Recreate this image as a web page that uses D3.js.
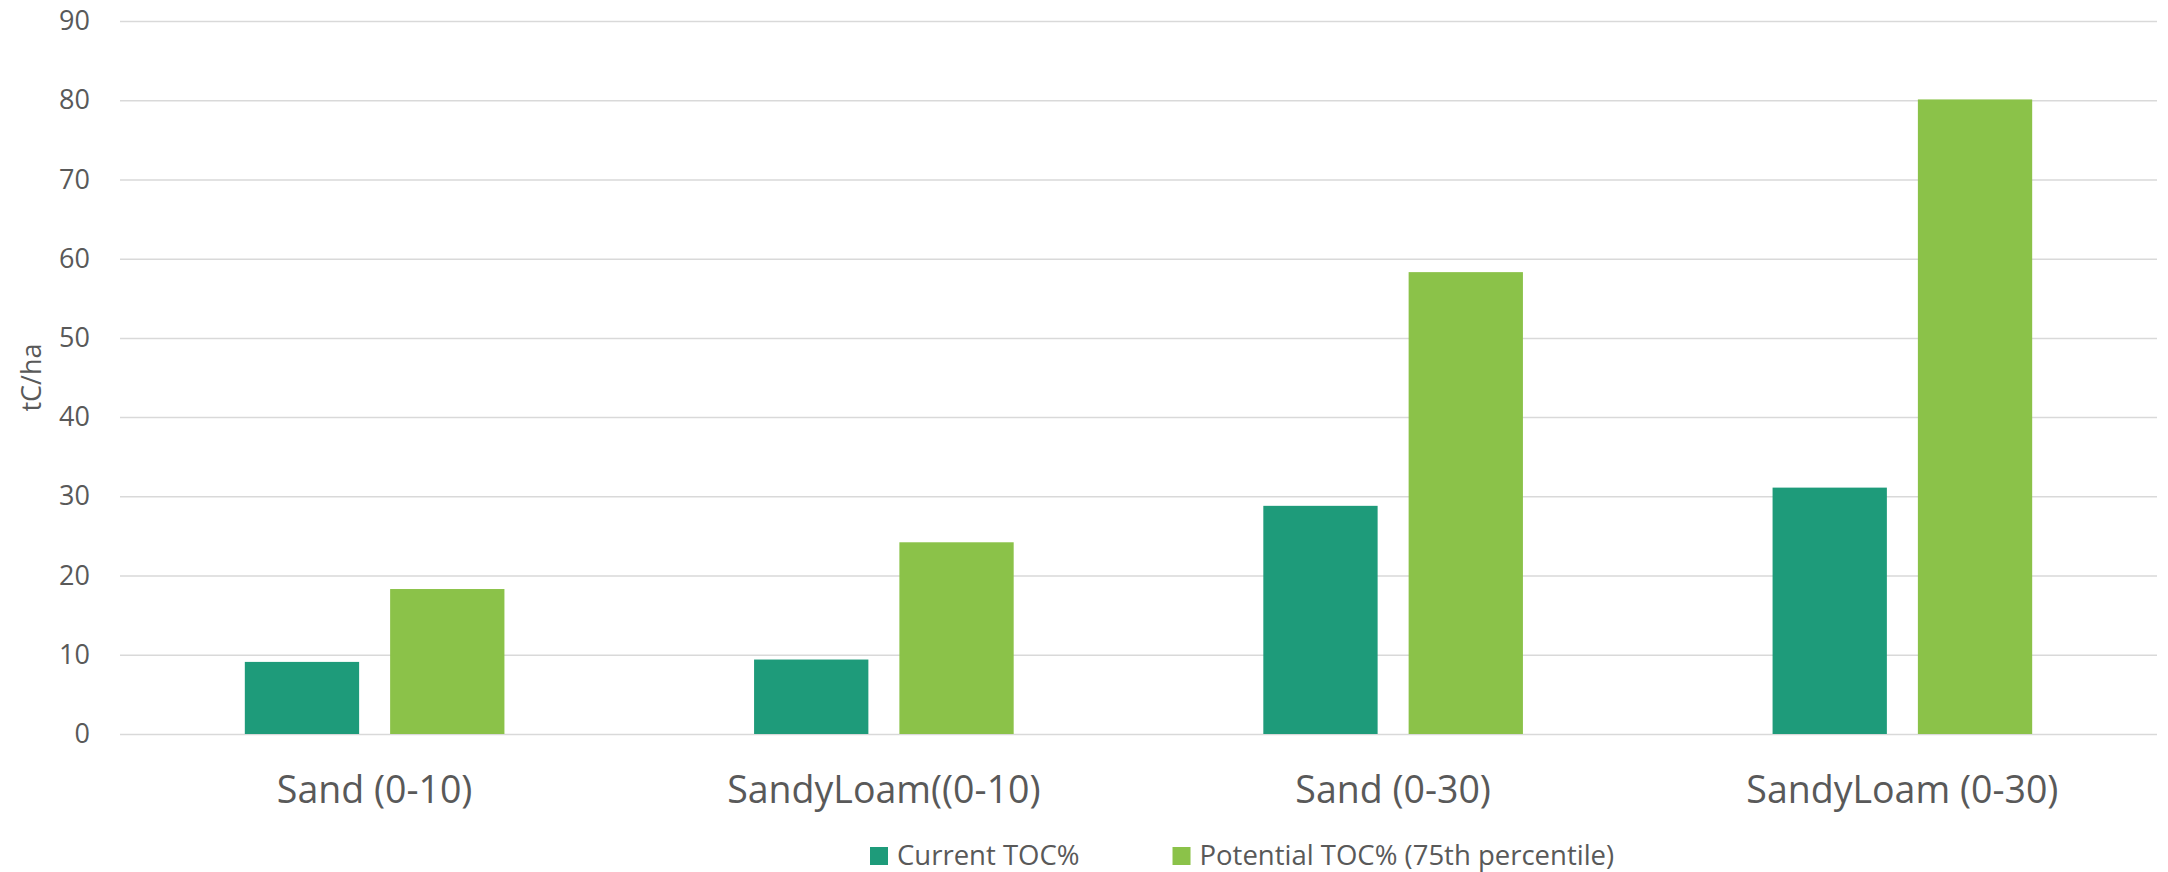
<!DOCTYPE html>
<html>
<head>
<meta charset="utf-8">
<script src="https://cdn.jsdelivr.net/npm/d3@7"></script>
<style>
  html, body { margin: 0; padding: 0; background: #ffffff; }
  svg { display: block; }
  svg text { font-family: "Open Sans", "Noto Sans", sans-serif; }
</style>
</head>
<body>
<svg id="chart" width="2168" height="872"></svg>
<script>
// Soil carbon stocks by texture and depth
const categories = ["Sand (0-10)", "SandyLoam((0-10)", "Sand (0-30)", "SandyLoam (0-30)"];
const seriesNames = ["Current TOC%", "Potential TOC% (75th percentile)"];
const currentTOC = [9.1, 9.4, 28.8, 31.1];
const potentialTOC = [18.3, 24.2, 58.3, 80.1];
const yTicks = [0, 10, 20, 30, 40, 50, 60, 70, 80, 90];
const yTitle = "tC/ha";

const colors = ["#1e9b7a", "#8bc249"];
const textColor = "#595959";
const gridColor = "#d9d9d9";
const fontStack = "\"Open Sans\", \"Noto Sans\", sans-serif";

const svg = d3.select("#chart");
const plot = { left: 120, right: 2157, top: 21, bottom: 734 };

const x0 = d3.scaleBand()
  .domain(categories)
  .range([plot.left, plot.right])
  .paddingInner(0)
  .paddingOuter(0);

const x1 = d3.scaleBand()
  .domain(seriesNames)
  .range([0, x0.bandwidth()])
  .paddingInner(0.2134)
  .paddingOuter(0.859);

const y = d3.scaleLinear()
  .domain([0, 90])
  .range([plot.bottom, plot.top]);

// Horizontal gridlines and value labels
const yAxis = svg.append("g")
  .attr("transform", `translate(${plot.left},0)`)
  .call(d3.axisLeft(y)
    .tickValues(yTicks)
    .tickSize(-(plot.right - plot.left))
    .tickPadding(30)
    .tickFormat(d3.format("d")))
  .attr("font-family", fontStack);
yAxis.select(".domain").remove();
yAxis.selectAll(".tick line")
  .attr("stroke", gridColor)
  .attr("stroke-width", 1.5);
yAxis.selectAll(".tick text")
  .attr("fill", textColor)
  .attr("font-size", 27);

// Axis title
svg.append("text")
  .attr("transform", `translate(41,${(plot.top + plot.bottom) / 2}) rotate(-90)`)
  .attr("text-anchor", "middle")
  .attr("fill", textColor)
  .attr("font-size", 27)
  .text(yTitle);

// Bars
const rows = categories.map((c, i) => ({
  category: c,
  values: [
    { series: seriesNames[0], value: currentTOC[i], color: colors[0] },
    { series: seriesNames[1], value: potentialTOC[i], color: colors[1] }
  ]
}));

const groups = svg.append("g")
  .selectAll("g")
  .data(rows)
  .join("g")
  .attr("transform", d => `translate(${x0(d.category)},0)`);

groups.selectAll("rect")
  .data(d => d.values)
  .join("rect")
  .attr("x", d => x1(d.series))
  .attr("y", d => y(d.value))
  .attr("width", x1.bandwidth())
  .attr("height", d => y(0) - y(d.value))
  .attr("fill", d => d.color);

// Category labels
const xAxis = svg.append("g")
  .attr("transform", `translate(0,${plot.bottom})`)
  .call(d3.axisBottom(x0).tickSize(0).tickPadding(0))
  .attr("font-family", fontStack);
xAxis.select(".domain").remove();
xAxis.selectAll(".tick text")
  .attr("fill", textColor)
  .attr("font-size", 37.5)
  .attr("y", 69)
  .attr("dy", 0);

// Legend
const legend = svg.append("g");
let lx = 870;
seriesNames.forEach((name, i) => {
  const item = legend.append("g").attr("transform", `translate(${lx},0)`);
  item.append("rect")
    .attr("x", 0)
    .attr("y", 847)
    .attr("width", 18)
    .attr("height", 18)
    .attr("fill", colors[i]);
  const t = item.append("text")
    .attr("x", 27)
    .attr("y", 865)
    .attr("fill", textColor)
    .attr("font-size", 27.5)
    .text(name);
  lx += 27 + t.node().getComputedTextLength() + 93;
});
</script>
</body>
</html>
